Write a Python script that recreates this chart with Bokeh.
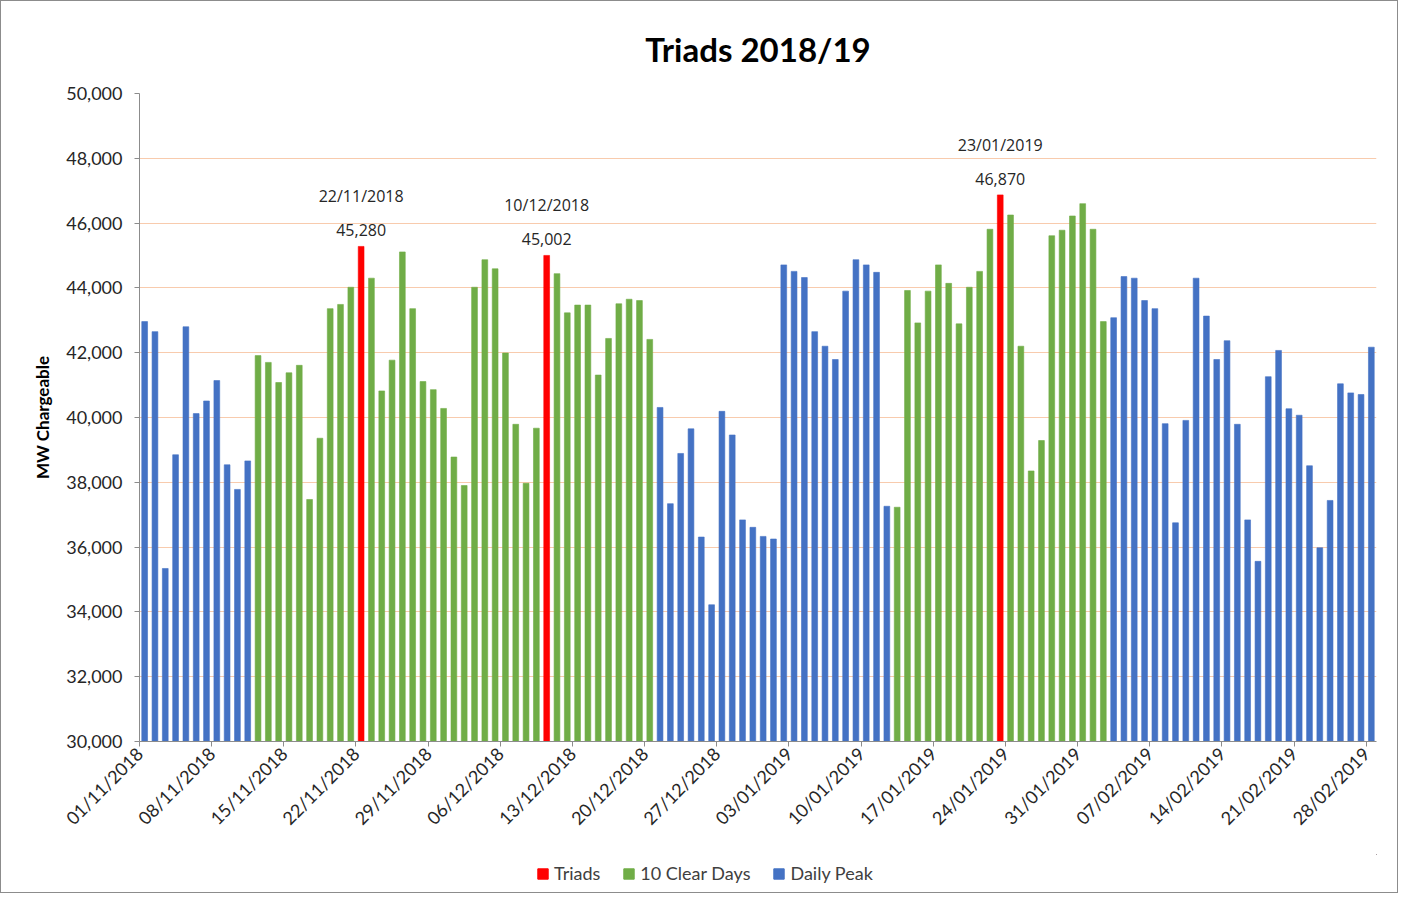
from bokeh.plotting import figure
from bokeh.layouts import column
from bokeh.models import (Range1d, FixedTicker, NumeralTickFormatter, Legend, LegendItem,
                          ColumnDataSource)
from bokeh.core.properties import value
from bokeh.embed import file_html
from bokeh.resources import INLINE
import datetime as dt

# ---- data (daily peak demand, MW chargeable) ----
nov_2018 = [42960, 42650, 35340, 38850, 42800, 40120, 40510, 41140, 38540, 37780,
            38660, 41910, 41700, 41080, 41380, 41610, 37470, 39360, 43360, 43490,
            44020, 45280, 44300, 40820, 41770, 45110, 43360, 41110, 40860, 40280]
dec_2018 = [38780, 37900, 44020, 44870, 44590, 41990, 39790, 37970, 39670, 45002,
            44440, 43230, 43470, 43470, 41310, 42440, 43510, 43650, 43610, 42410,
            40310, 37340, 38890, 39650, 36310, 34220, 40190, 39460, 36840, 36610,
            36330]
jan_2019 = [36250, 44710, 44510, 44320, 42650, 42200, 41790, 43900, 44870, 44710,
            44480, 37260, 37230, 43920, 42920, 43900, 44710, 44140, 42890, 44020,
            44510, 45810, 46870, 46250, 42200, 38350, 39290, 45610, 45780, 46220,
            46600]
feb_2019 = [45810, 42960, 43080, 44350, 44300, 43610, 43360, 39810, 36750, 39910,
            44300, 43130, 41790, 42370, 39790, 36840, 35560, 41260, 42070, 40270,
            40070, 38510, 35980, 37440, 41040, 40760, 40710, 42170]

triad_dates = ["22/11/2018", "10/12/2018", "23/01/2019"]
clear_days_window = 10
series_names = ["Triads", "10 Clear Days", "Daily Peak"]
series_colors = ["#FF0000", "#70AD47", "#4472C4"]
tick_labels = ["01/11/2018", "08/11/2018", "15/11/2018", "22/11/2018", "29/11/2018",
               "06/12/2018", "13/12/2018", "20/12/2018", "27/12/2018", "03/01/2019",
               "10/01/2019", "17/01/2019", "24/01/2019", "31/01/2019", "07/02/2019",
               "14/02/2019", "21/02/2019", "28/02/2019"]

values = nov_2018 + dec_2018 + jan_2019 + feb_2019
start = dt.date(2018, 11, 1)
dates = [(start + dt.timedelta(days=i)).strftime("%d/%m/%Y") for i in range(len(values))]
triad_idx = [dates.index(d) for d in triad_dates]

groups = {n: {"x": [], "top": []} for n in series_names}
for i, v in enumerate(values):
    if i in triad_idx:
        g = "Triads"
    elif any(abs(i - t) <= clear_days_window for t in triad_idx):
        g = "10 Clear Days"
    else:
        g = "Daily Peak"
    groups[g]["x"].append(i + 0.5)
    groups[g]["top"].append(v)

FONT = "Lato"
W = 1396

p = figure(width=W, height=853, output_backend="svg", toolbar_location=None,
           x_range=Range1d(0, len(values)), y_range=Range1d(30000, 50000),
           min_border_left=138, min_border_right=21, min_border_top=92,
           min_border_bottom=113, title="Triads 2018/19")
p.outline_line_color = None
p.background_fill_color = "white"
p.border_fill_color = "white"

p.title.align = "center"
p.title.text_font = FONT
p.title.text_font_size = "33px"
p.title.text_font_style = "bold"
p.title.text_color = "#000000"
p.title.standoff = 50

renderers = {}
for name, color in zip(series_names, series_colors):
    src = ColumnDataSource(dict(x=groups[name]["x"], top=groups[name]["top"]))
    renderers[name] = p.vbar(x="x", top="top", bottom=30000, width=0.56, source=src,
                             fill_color=color, line_color=color, line_width=0.6)

# triad annotations
tsrc = ColumnDataSource(dict(
    x=[t + 0.5 for t in triad_idx],
    y=[values[t] for t in triad_idx],
    val=[f"{values[t]:,}" for t in triad_idx],
    date=triad_dates))
p.text(x="x", y="y", text="val", source=tsrc, text_align="center",
       text_baseline="middle", y_offset=-16, text_font=value("Open Sans"),
       text_font_size="16px", text_color="#262626")
p.text(x="x", y="y", text="date", source=tsrc, text_align="center",
       text_baseline="middle", y_offset=-50, text_font=value("Open Sans"),
       text_font_size="16px", text_color="#262626")

# axes
p.xgrid.visible = False
p.ygrid.grid_line_color = "#F8CBAD"
p.ygrid.grid_line_width = 1
p.yaxis.ticker = FixedTicker(ticks=list(range(30000, 50001, 2000)))
p.yaxis.formatter = NumeralTickFormatter(format="0,0")
p.yaxis.axis_label = "MW Chargeable"
p.yaxis.axis_label_text_font = FONT
p.yaxis.axis_label_text_font_size = "17px"
p.yaxis.axis_label_text_font_style = "bold"
p.yaxis.axis_label_text_color = "#000000"
p.yaxis.axis_label_standoff = 10
p.yaxis.major_label_standoff = 12
for ax in (p.xaxis, p.yaxis):
    ax.axis_line_color = "#8C8C8C"
    ax.major_tick_line_color = "#8C8C8C"
    ax.major_tick_out = 5
    ax.major_tick_in = 0
    ax.minor_tick_line_color = None
    ax.major_label_text_font = FONT
    ax.major_label_text_font_size = "18px"
    ax.major_label_text_color = "#262626"

tick_pos = list(range(0, len(values), 7))
p.xaxis.ticker = FixedTicker(ticks=tick_pos)
p.xaxis.major_label_overrides = {t: lab for t, lab in zip(tick_pos, tick_labels)}
p.xaxis.major_label_orientation = 0.785398
p.xaxis.major_label_standoff = 4

# legend strip below the chart (its frame is aligned with the main chart's frame)
lf = figure(width=W, height=38, output_backend="svg", toolbar_location=None,
            x_range=Range1d(0, 1), y_range=Range1d(0, 1),
            x_axis_type=None, y_axis_type=None,
            min_border=0, min_border_left=0, min_border_right=0,
            min_border_top=0, min_border_bottom=0)
lf.grid.visible = False
lf.outline_line_color = None
lrends = [lf.vbar(x=[5], top=[5], bottom=4, width=0.1, fill_color=c, line_color=c)
          for c in series_colors]
legend = Legend(items=[LegendItem(label=n, renderers=[r]) for n, r in zip(series_names, lrends)],
                orientation="horizontal", location=(397, 8),
                label_text_font=FONT, label_text_font_size="18px",
                label_text_color="#404040", glyph_width=13, glyph_height=13,
                spacing=22, label_standoff=5, border_line_color=None,
                background_fill_alpha=0, margin=0, padding=4)
lf.add_layout(legend, "center")

layout = column(p, lf, spacing=0, styles={"border": "1px solid #8C8C8C"})

open("out.html", "w").write(file_html(layout, INLINE))
